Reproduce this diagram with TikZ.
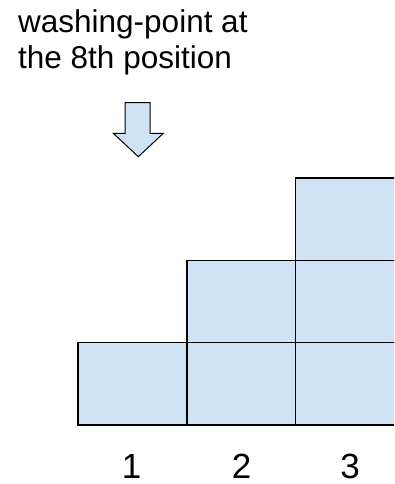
\documentclass[tikz,border=0pt]{standalone}
\usepackage{fontspec}
\setmainfont{Liberation Sans}
\definecolor{boxblue}{HTML}{CFE2F3}
\begin{document}
\begin{tikzpicture}[x=1pt,y=-1pt,
  cell/.style={draw=black, fill=boxblue, line width=1.6pt, rectangle, inner sep=0pt, outer sep=0pt,
    minimum width=108.7pt, minimum height=82.3pt},
  lbl/.style={font=\fontsize{35}{40}\selectfont, inner sep=0pt, anchor=base},
  arrowshape/.style={draw=black, fill=boxblue, line width=1pt, line join=miter}]
\useasboundingbox (0,0) rectangle (394,484);
\clip (0,0) rectangle (394,484);
\node[anchor=base west, align=left, inner sep=0pt, font=\fontsize{31.5}{36}\selectfont] (title) at (18,68.3)
  {washing-point at\\the 8th position};
% arrow
\coordinate (tip) at (138.3,156.7);
\draw[arrowshape] (125,102.7) -- (150,102.7) -- (150,133.3) -- (163.3,133.3) -- (tip)
  -- (113.3,133.3) -- (125,133.3) -- cycle;
% columns
\node[cell] (c11) at (132.5,383.8) {};
\node[cell] (c21) at (241.3,383.8) {};
\node[cell] (c22) at (241.3,301.5) {};
\node[cell] (c31) at (350.0,383.8) {};
\node[cell] (c32) at (350.0,301.5) {};
\node[cell] (c33) at (350.0,219.2) {};
\node[lbl] (n1) at (131.5,478) {1};
\node[lbl] (n2) at (241.5,478) {2};
\node[lbl] (n3) at (350,478) {3};
\end{tikzpicture}
\end{document}
